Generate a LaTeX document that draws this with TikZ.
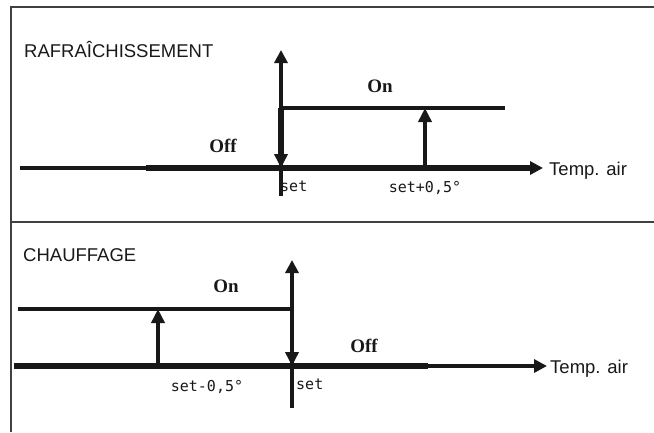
\documentclass[tikz,border=0pt]{standalone}
\usepackage{fontspec}
\setmainfont{Liberation Sans}
\newfontfamily\statefont{Liberation Serif}
\newfontfamily\tickfont{DejaVu Sans Mono}
\usetikzlibrary{arrows.meta,positioning}
\definecolor{inkline}{RGB}{24,24,24}
\tikzset{
  frameln/.style={line width=1.5pt, black!75},
  thinln/.style={line width=3.6pt, inkline},
  thickln/.style={line width=5.4pt, inkline},
  axisln/.style={-{Triangle[length=13pt,width=13pt]}, inkline},
  switchln/.style={-{Triangle[length=14pt,width=13pt]}, line width=4.6pt, inkline},
  title/.style={anchor=base west, inner sep=0pt, text=black!90,
    font=\fontsize{18.5}{20}\selectfont},
  statelbl/.style={inner sep=0pt, text=inkline,
    font=\statefont\bfseries\fontsize{19}{22}\selectfont},
  ticklbl/.style={inner sep=0pt, text=inkline, font=\tickfont\fontsize{15}{17}\selectfont},
}

\begin{document}
\begin{tikzpicture}[x=1pt,y=-1pt]
  \useasboundingbox (0,0) rectangle (654,432);
  % ----- frame -----
  \draw[frameln] (11,432) -- (11,7) -- (654,7);
  \draw[frameln] (11,222) -- (654,222);

  % ----- cooling -----
  \node[title] (cool) at (24,57) {RAFRAÎCHISSEMENT};
  \coordinate (c-start) at (20,168);
  \coordinate (c-step)  at (146,168);
  \coordinate (c-tip)   at (543,168);
  \coordinate (c-set)   at (281,168);
  \coordinate (c-low)   at (281,196);
  \coordinate (c-top)   at (281,50);
  \coordinate (c-on0)   at (281,108);
  \coordinate (c-on1)   at (505,108);
  \coordinate (c-hi)    at (425,168);
  \coordinate (c-hion)  at (425,108);
  \draw[thinln] (c-start) -- (c-step);
  \draw[thickln, axisln] (c-step) -- (c-tip);
  \draw[thinln, axisln] (c-low) -- (c-top);
  \draw[thinln] (c-on0) -- (c-on1);
  \draw[switchln, line width=5.6pt] (c-on0) -- (c-set);
  \draw[switchln] (c-hi) -- (c-hion);
  \node[statelbl] (c-onlbl)  at (380,86)  {On};
  \node[statelbl] (c-offlbl) at (223,146) {Off};
  \node[ticklbl, anchor=north west] (c-setlbl) at (280,181) {set};
  \node[ticklbl, anchor=north] (c-hilbl) at (425,181) {set+0,5°};
  \node[title] (c-air) at (549,175) {Temp. air};

  % ----- heating -----
  \node[title] (heat) at (23,261) {CHAUFFAGE};
  \coordinate (h-start) at (14,366);
  \coordinate (h-step)  at (428,366);
  \coordinate (h-tip)   at (547,366);
  \coordinate (h-set)   at (292,366);
  \coordinate (h-low)   at (292,408);
  \coordinate (h-top)   at (292,260);
  \coordinate (h-on0)   at (18,309);
  \coordinate (h-on1)   at (292,309);
  \coordinate (h-lo)    at (158,366);
  \coordinate (h-loon)  at (158,309);
  \draw[thickln] (h-start) -- (h-step);
  \draw[thinln, axisln] (h-step) -- (h-tip);
  \draw[thinln, axisln] (h-low) -- (h-top);
  \draw[thinln] (h-on0) -- (h-on1);
  \draw[switchln, line width=3.6pt] (h-on1) -- (h-set);
  \draw[switchln] (h-lo) -- (h-loon);
  \node[statelbl] (h-onlbl)  at (226,286) {On};
  \node[statelbl] (h-offlbl) at (364,346) {Off};
  \node[ticklbl, anchor=north west] (h-setlbl) at (296,379) {set};
  \node[ticklbl, anchor=north] (h-lolbl) at (207,380) {set-0,5°};
  \node[title] (h-air) at (550,373) {Temp. air};
\end{tikzpicture}
\end{document}
